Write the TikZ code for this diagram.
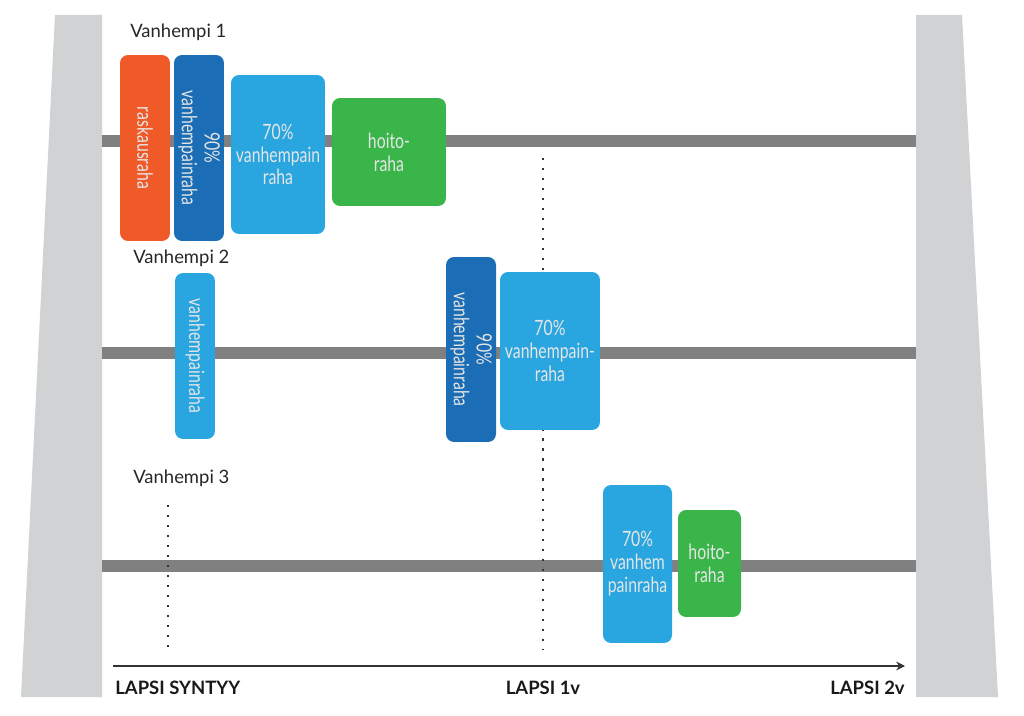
\documentclass[tikz,border=0pt]{standalone}
\usepackage{fontspec}
\setmainfont{Lato}
\newfontfamily\boxfont[FakeStretch=0.75]{Lato}
\usetikzlibrary{arrows.meta}
\pgfdeclarelayer{background}
\pgfsetlayers{background,main}
\definecolor{raskaorange}{HTML}{F05A28}
\definecolor{darkblue}{HTML}{1B6DB5}
\definecolor{lightblue}{HTML}{29A6E0}
\definecolor{hoitogreen}{HTML}{3AB54A}
\definecolor{bargray}{HTML}{D0D2D3}
\definecolor{trackgray}{HTML}{808080}

\begin{document}
\begin{tikzpicture}[x=0.02cm,y=-0.02cm,>={Stealth[length=5pt,width=5pt]}]
 % styles
 \tikzstyle{box} = [rounded corners=0.16cm,inner sep=0pt,text=white!90!black,align=center,font=\boxfont\fontsize{12}{13}\selectfont];
 \tikzstyle{vbox} = [box,rotate=-90];
 \tikzstyle{parent} = [anchor=west,inner sep=0pt,text=black!85,font=\fontsize{10.5}{12}\selectfont];
 \tikzstyle{age} = [inner sep=0pt,text=black!90,font=\bfseries\fontsize{10.5}{12}\selectfont];
 \tikzstyle{track} = [trackgray,line width=0.24cm];
 \tikzstyle{dots} = [black!80,line width=1.2pt,dash pattern=on 1.2pt off 4.5pt];

 \useasboundingbox (0,0) rectangle (1024,716);

 % nodes
 \node[vbox,fill=raskaorange,minimum width=3.72cm,minimum height=1.0cm] (raska) at (145,148) {raskausraha};
 \node[vbox,fill=darkblue,minimum width=3.72cm,minimum height=1.0cm] (vp90a) at (199,148) {90\%\\vanhempainraha};
 \node[box,fill=lightblue,minimum width=1.88cm,minimum height=3.18cm] (vp70a) at (278,154.5) {70\%\\vanhempain\\raha};
 \node[box,fill=hoitogreen,minimum width=2.28cm,minimum height=2.16cm] (hoito1) at (389,152) {hoito-\\raha};

 \node[vbox,fill=lightblue,minimum width=3.32cm,minimum height=0.8cm] (vp2) at (195,356) {vanhempainraha};
 \node[vbox,fill=darkblue,minimum width=3.7cm,minimum height=1.0cm] (vp90b) at (471,349.5) {90\%\\vanhempainraha};
 \node[box,fill=lightblue,minimum width=2.0cm,minimum height=3.16cm] (vp70b) at (550,351) {70\%\\vanhempain-\\raha};

 \node[box,fill=lightblue,minimum width=1.38cm,minimum height=3.16cm] (vp70c) at (637.5,564) {70\%\\vanhem\\painraha};
 \node[box,fill=hoitogreen,minimum width=1.26cm,minimum height=2.14cm] (hoito3) at (709.5,563.5) {hoito-\\raha};

 \node[parent] (vh1) at (130,32) {Vanhempi 1};
 \node[parent] (vh2) at (133,258) {Vanhempi 2};
 \node[parent] (vh3) at (133,478) {Vanhempi 3};

 \node[age,anchor=west] (syntyy) at (115,688) {LAPSI SYNTYY};
 \node[age] (v1) at (543,688) {LAPSI 1v};
 \node[age,anchor=east] (v2) at (905,688) {LAPSI 2v};

 % coordinates
 \coordinate (l1) at (102,141);
 \coordinate (r1) at (916,141);
 \coordinate (l2) at (102,353);
 \coordinate (r2) at (916,353);
 \coordinate (l3) at (102,566);
 \coordinate (r3) at (916,566);
 \coordinate (d1top) at (543,158);
 \coordinate (d1bot) at (543,650);
 \coordinate (d0top) at (168,505);
 \coordinate (d0bot) at (168,650);
 \coordinate (a0) at (113,666);
 \coordinate (a1) at (905,666);

 \draw[->,line width=1pt,black!80] (a0) -- (a1);

 \begin{pgfonlayer}{background}
 % side bars
 \fill[bargray] (55,15) -- (102,15) -- (102,697) -- (21,697) -- cycle;
 \fill[bargray] (916,15) -- (962,15) -- (998,697) -- (916,697) -- cycle;

 % tracks
 \draw[track] (l1) -- (r1);
 \draw[track] (l2) -- (r2);
 \draw[track] (l3) -- (r3);

 \draw[dots] (d1top) -- (d1bot);
 \draw[dots] (d0top) -- (d0bot);
 \end{pgfonlayer}
\end{tikzpicture}
\end{document}
